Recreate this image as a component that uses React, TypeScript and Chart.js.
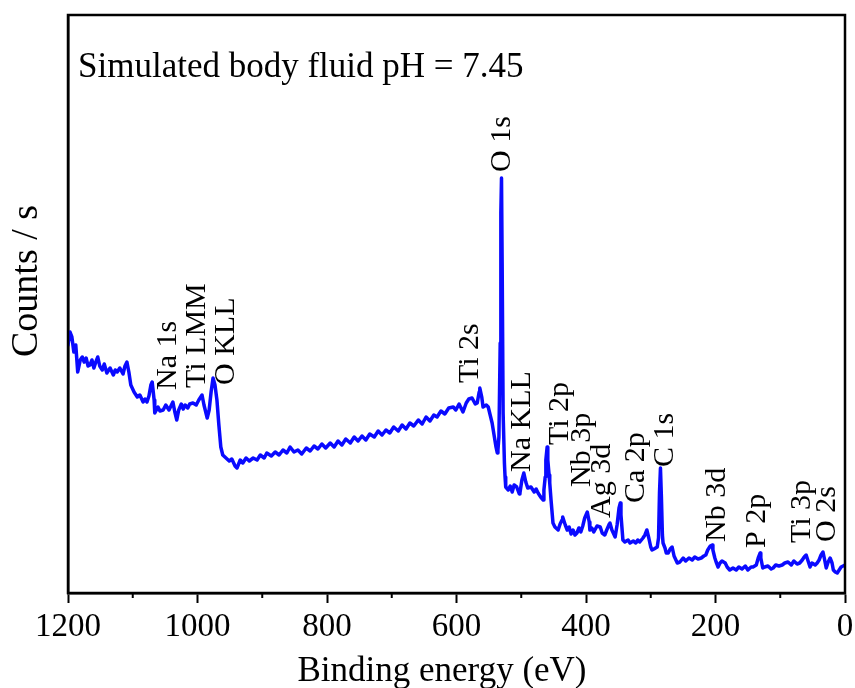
import React, { useEffect, useRef } from "react";
import { Chart, registerables } from "chart.js";

Chart.register(...registerables);

// Binding energy (eV) of each recorded point
const energyEV: number[] = [
  1200, 1197, 1194, 1191, 1188, 1185, 1181, 1178, 1175, 1172, 1169, 1166, 1163, 1160, 1157, 1154, 1151, 1147, 1144, 1140,
  1135, 1130, 1127, 1124, 1120, 1115, 1112, 1109, 1106, 1103, 1098, 1093, 1089, 1084, 1081, 1078, 1075, 1072, 1070, 1067,
  1066, 1061, 1058, 1053, 1049, 1044, 1041, 1038, 1035, 1032, 1029, 1025, 1022, 1019, 1015, 1012, 1007, 1002, 998, 993,
  990, 985, 982, 979, 976, 973, 970, 967, 964, 961, 956, 951, 947, 942, 939, 934, 930, 925, 920, 914,
  908, 903, 897, 893, 886, 880, 874, 868, 862, 857, 851, 845, 839, 832, 826, 820, 814, 808, 802, 795,
  789, 783, 777, 771, 764, 758, 752, 746, 740, 734, 727, 721, 715, 709, 703, 697, 690, 684, 678, 672,
  666, 659, 653, 647, 641, 635, 630, 624, 618, 612, 605, 601, 596, 590, 585, 581, 576, 571, 568, 565,
  564, 561, 559, 554, 551, 548, 545, 542, 539, 537, 536, 534.5, 532.5, 531.5, 530.5, 529.5, 528, 526, 525, 524,
  520, 517, 514, 511, 507, 503, 502, 499, 496, 493, 490, 485, 480, 477, 474, 470, 466, 465, 463, 462,
  460, 459, 457, 456, 454, 451, 448, 443, 440, 437, 436, 432, 429, 426, 423, 420, 417, 414, 411, 408,
  405, 402, 398, 395, 394, 391, 388, 383, 378, 375, 371, 368, 364, 363, 360, 355, 352, 349, 347, 346,
  343, 340, 335, 332, 327, 323, 320, 317, 312, 309, 306, 303, 300, 298, 295, 290, 288, 286.5, 285, 283.5,
  282, 281, 278, 276, 273, 270, 267, 264, 259, 255, 250, 246, 241, 236, 232, 227, 222, 218, 215, 212,
  208, 205, 204, 201, 199, 196, 193, 190, 185, 182, 178, 173, 168, 164, 159, 154, 150, 145, 142, 137,
  134, 131, 130, 127, 124, 119, 114, 111, 107, 102, 97, 93, 88, 83, 79, 74, 70, 66, 63, 60,
  57, 54, 51, 46, 43, 40, 37, 34, 32, 29, 26, 23, 20, 18, 15, 12, 9, 6, 3, 0,
];

// Intensity (counts / s, arbitrary units) at each energy above
const counts: number[] = [
  248, 261, 256, 241, 248, 221, 233, 236, 231, 235, 227, 228, 233, 225, 231, 236, 227, 223, 229, 220,
  225, 218, 223, 221, 225, 219, 227, 231, 221, 208, 201, 196, 198, 191, 194, 191, 197, 208, 211, 193,
  180, 186, 182, 183, 188, 183, 187, 191, 181, 173, 183, 189, 184, 188, 185, 189, 190, 188, 193, 198,
  188, 175, 183, 201, 215, 208, 193, 168, 146, 138, 135, 132, 134, 127, 125, 133, 130, 135, 132, 135,
  133, 138, 135, 140, 137, 141, 138, 143, 140, 146, 141, 143, 139, 145, 142, 147, 144, 149, 145, 150,
  146, 152, 148, 154, 150, 156, 152, 157, 153, 159, 156, 162, 158, 163, 160, 166, 162, 168, 164, 170,
  167, 173, 169, 176, 172, 178, 176, 182, 179, 185, 186, 183, 189, 181, 190, 194, 195, 189, 190, 201,
  205, 196, 186, 188, 186, 178, 170, 158, 146, 140, 143, 156, 250, 380, 415, 330, 180, 130, 116, 106,
  103, 107, 101, 108, 106, 99, 100, 113, 120, 111, 105, 106, 101, 104, 100, 96, 93, 103, 116, 133,
  146, 133, 118, 110, 93, 70, 66, 63, 69, 73, 76, 68, 63, 66, 59, 63, 58, 60, 65, 61,
  67, 75, 81, 71, 63, 65, 61, 67, 66, 60, 58, 63, 69, 70, 63, 56, 68, 85, 90, 78,
  53, 51, 53, 50, 52, 50, 53, 51, 55, 58, 63, 55, 46, 43, 44, 46, 55, 100, 125, 95,
  58, 50, 45, 40, 40, 44, 46, 37, 30, 31, 35, 32, 35, 33, 36, 34, 35, 37, 38, 43,
  47, 48, 43, 35, 31, 26, 30, 32, 30, 26, 23, 25, 23, 26, 24, 27, 23, 26, 26, 28,
  35, 40, 35, 25, 26, 27, 24, 25, 28, 27, 28, 30, 31, 28, 32, 29, 30, 33, 36, 38,
  32, 26, 30, 28, 30, 33, 38, 41, 35, 25, 31, 35, 30, 23, 21, 20, 23, 26, 27, 28,
];

// Peak assignments: label, energy where the label stands, height where it starts
const peakNames: string[] = [
  "Na 1s", "Ti LMM", "O KLL", "Ti 2s", "O 1s", "Na KLL", "Ti 2p", "Nb 3p",
  "Ag 3d", "Ca 2p", "C 1s", "Nb 3d", "P 2p", "Ti 3p", "O 2s",
];
const peakLabelEnergy: number[] = [1046, 1001, 956, 579, 530, 498, 440, 406, 375, 323, 278, 197, 135, 66, 27];
const peakLabelCounts: number[] = [203, 205, 208, 210, 421, 121, 148, 106, 75, 90, 126, 51, 45, 50, 51];

const xTicks: number[] = [0, 100, 200, 300, 400, 500, 600, 700, 800, 900, 1000, 1100, 1200];
const annotationText = "Simulated body fluid pH = 7.45";
const xTitle = "Binding energy (eV)";
const yTitle = "Counts / s";

const SERIF = "'Liberation Serif', 'Times New Roman', serif";

const decorPlugin = {
  id: "decor",
  afterDraw(chart: any) {
    const { ctx, chartArea, scales } = chart;
    const xs = scales.x;
    const ys = scales.y;
    ctx.save();
    // frame
    ctx.strokeStyle = "#000";
    ctx.lineWidth = 2.5;
    ctx.strokeRect(chartArea.left, chartArea.top, chartArea.right - chartArea.left, chartArea.bottom - chartArea.top);
    // minor ticks
    ctx.lineWidth = 2;
    for (const v of xTicks) {
      if (v % 200 !== 0) {
        const px = xs.getPixelForValue(v);
        ctx.beginPath();
        ctx.moveTo(px, chartArea.bottom);
        ctx.lineTo(px, chartArea.bottom + 5);
        ctx.stroke();
      }
    }
    // peak labels
    ctx.fillStyle = "#000";
    ctx.font = `30px ${SERIF}`;
    ctx.textAlign = "left";
    ctx.textBaseline = "middle";
    peakNames.forEach((name, i) => {
      const px = xs.getPixelForValue(peakLabelEnergy[i]);
      const py = ys.getPixelForValue(peakLabelCounts[i]);
      ctx.save();
      ctx.translate(px, py);
      ctx.rotate(-Math.PI / 2);
      ctx.fillText(name, 0, 0);
      ctx.restore();
    });
    // annotation
    ctx.font = `35px ${SERIF}`;
    ctx.textAlign = "left";
    ctx.textBaseline = "alphabetic";
    ctx.fillText(annotationText, chartArea.left + 10, chartArea.top + 62);
    // x title
    ctx.textAlign = "center";
    ctx.fillText(xTitle, chartArea.left + 374, chartArea.bottom + 88);
    // y title
    ctx.font = `38px ${SERIF}`;
    ctx.save();
    ctx.translate(chartArea.left - 31, chartArea.top + 266);
    ctx.rotate(-Math.PI / 2);
    ctx.textAlign = "center";
    ctx.textBaseline = "alphabetic";
    ctx.fillText(yTitle, 0, 0);
    ctx.restore();
    ctx.restore();
  },
};

export default function App() {
  const canvasRef = useRef<HTMLCanvasElement | null>(null);

  useEffect(() => {
    if (!canvasRef.current) return;
    const points = energyEV.map((e, i) => ({ x: e, y: counts[i] }));
    const chart = new Chart(canvasRef.current, {
      type: "line",
      data: {
        datasets: [
          {
            data: points,
            borderColor: "#0a0aff",
            borderWidth: 3.5,
            pointRadius: 0,
            tension: 0,
            borderJoinStyle: "round",
            borderCapStyle: "round",
            fill: false,
          },
        ],
      },
      options: {
        animation: false,
        responsive: false,
        layout: { padding: { top: 15, right: 10, left: 0, bottom: 0 } },
        plugins: { legend: { display: false }, tooltip: { enabled: false } },
        scales: {
          x: {
            type: "linear",
            reverse: true,
            min: 0,
            max: 1200,
            afterFit: (s: any) => {
              s.height = 95;
            },
            afterBuildTicks: (s: any) => {
              s.ticks = xTicks.map((v) => ({ value: v }));
            },
            ticks: {
              autoSkip: false,
              maxRotation: 0,
              padding: 5,
              color: "#000",
              font: { family: SERIF, size: 33 },
              callback: (v: any) => (Number(v) % 200 === 0 ? String(v) : ""),
            },
            grid: {
              drawOnChartArea: false,
              tickLength: 10,
              tickWidth: 2,
              tickColor: (c: any) => (c.tick && c.tick.value % 200 === 0 ? "#000" : "rgba(0,0,0,0)"),
            },
            border: { color: "#000", width: 2.5 },
          },
          y: {
            min: 0,
            max: 578,
            afterFit: (s: any) => {
              s.width = 68;
            },
            ticks: { display: false },
            grid: { display: false },
            border: { color: "#000", width: 2.5 },
          },
        },
      },
      plugins: [decorPlugin],
    });
    return () => chart.destroy();
  }, []);

  return (
    <div style={{ position: "fixed", left: 0, top: 0, width: 855, height: 688, background: "#fff" }}>
      <canvas ref={canvasRef} width={855} height={688} />
    </div>
  );
}
